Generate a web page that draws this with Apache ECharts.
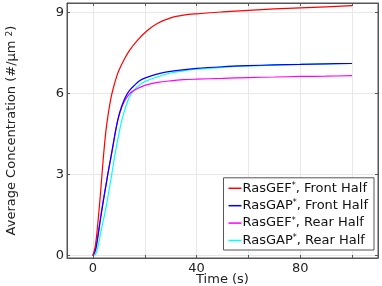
<!DOCTYPE html>
<html>
<head>
<meta charset="utf-8">
<script src="https://cdn.jsdelivr.net/npm/echarts@6/dist/echarts.min.js"></script>
<style>html,body{margin:0;padding:0;background:#fff}#c{width:382px;height:286px}</style>
</head>
<body>
<div id="c"></div>
<script>
const seriesNames = ['RasGEF*, Front Half', 'RasGAP*, Front Half', 'RasGEF*, Rear Half', 'RasGAP*, Rear Half'];
const seriesColors = ['#ff0000', '#0000ff', '#ff00ff', '#00ffff'];

const redT = [0,1,2,3,4,5,6,7,8,9,10,12,14,17,21,25,30,35,40,50,60,70,80,90,100];
const redV = [0,0.4,1.3,2.4,3.6,4.6,5.3,5.85,6.25,6.58,6.85,7.25,7.58,7.95,8.33,8.6,8.8,8.9,8.95,9.02,9.08,9.13,9.17,9.21,9.25];

const blueT = [0,1,2,3,4,5,6,7,8,9,10,11,12,13,14,16,18,20,24,28,32,40,50,60,70,80,90,100];
const blueV = [0,0.2,0.75,1.4,2.0,2.58,3.15,3.68,4.22,4.75,5.18,5.5,5.75,5.95,6.1,6.3,6.47,6.57,6.7,6.79,6.85,6.93,6.99,7.03,7.06,7.08,7.1,7.11];

const magT = [0,1,2,3,4,5,6,7,8,9,10,11,12,14,16,18,20,25,30,35,40,50,60,70,80,90,100];
const magV = [0,0.25,0.8,1.45,2.05,2.6,3.15,3.65,4.2,4.75,5.15,5.45,5.68,5.98,6.12,6.22,6.3,6.41,6.47,6.51,6.53,6.56,6.59,6.61,6.63,6.64,6.66];

const cyanT = [0,1,2,3,4,5,6,7,8,9,10,11,12,13,14,15,16,18,20,25,30,35,40,50,60,70,80,90,100];
const cyanV = [0,0.05,0.35,0.85,1.3,1.75,2.3,2.85,3.45,4.0,4.5,4.95,5.3,5.6,5.85,6.02,6.14,6.32,6.44,6.62,6.76,6.84,6.9,6.97,7.02,7.05,7.08,7.1,7.11];

const xTickLabels = [0, 40, 80];
const xGridValues = [0, 20, 40, 60, 80, 100];
const yTickLabels = [0, 3, 6, 9];

const allT = [redT, blueT, magT, cyanT];
const allV = [redV, blueV, magV, cyanV];

const font = 'DejaVu Sans';
const chart = echarts.init(document.getElementById('c'), null, {renderer: 'canvas'});

const series = seriesNames.map((n, i) => ({
  name: n,
  type: 'line',
  smooth: 0.35,
  showSymbol: false,
  symbol: 'none',
  data: allT[i].map((t, j) => [t, allV[i][j]]),
  lineStyle: {color: seriesColors[i], width: 1.2},
  itemStyle: {color: seriesColors[i]},
  z: 10 - i
}));

function legendFmt(name) {
  const p = name.split('*');
  return p[0] + '{sup|*}' + p[1];
}

const axisCol = '#555';

chart.setOption({
  animation: false,
  backgroundColor: '#fff',
  grid: {left: 67, right: 4, top: 3, bottom: 28, containLabel: false, outerBoundsMode: 'none',
    show: true, borderColor: axisCol, borderWidth: 1, backgroundColor: 'transparent'},
  xAxis: [{
    type: 'value', min: -10, max: 110,
    name: 'Time (s)', nameLocation: 'middle', nameGap: 15, nameMoveOverlap: false,
    nameTextStyle: {fontFamily: font, fontSize: 13, color: '#222'},
    axisLine: {show: true, onZero: false, lineStyle: {color: axisCol, width: 1}},
    axisTick: {show: true, inside: true, length: 3, customValues: xGridValues, lineStyle: {color: axisCol}},
    axisLabel: {customValues: xTickLabels, fontFamily: font, fontSize: 13, color: '#222', margin: 4},
    splitLine: {show: true, lineStyle: {color: '#e8e8e8', width: 1}}
  }, {
    type: 'value', min: -10, max: 110, position: 'top',
    axisLine: {show: true, onZero: false, lineStyle: {color: axisCol, width: 1}},
    axisTick: {show: true, inside: true, length: 3, customValues: xGridValues, lineStyle: {color: axisCol}},
    axisLabel: {show: false},
    splitLine: {show: false}
  }],
  yAxis: [{
    type: 'value', min: -0.09, max: 9.35,
    name: 'Average Concentration (#/µm {sup|2})', nameLocation: 'middle', nameGap: 49, nameMoveOverlap: false,
    nameTextStyle: {fontFamily: font, fontSize: 13, color: '#222',
      rich: {sup: {fontFamily: font, fontSize: 9, verticalAlign: 'top', color: '#222'}}},
    axisLine: {show: true, onZero: false, lineStyle: {color: axisCol, width: 1}},
    axisTick: {show: true, inside: true, length: 3, customValues: yTickLabels, lineStyle: {color: axisCol}},
    axisLabel: {customValues: yTickLabels, fontFamily: font, fontSize: 13, color: '#222', margin: 3},
    splitLine: {show: true, lineStyle: {color: '#e8e8e8', width: 1}}
  }, {
    type: 'value', min: -0.09, max: 9.35, position: 'right',
    axisLine: {show: true, onZero: false, lineStyle: {color: axisCol, width: 1}},
    axisTick: {show: true, inside: true, length: 3, customValues: yTickLabels, lineStyle: {color: axisCol}},
    axisLabel: {show: false},
    splitLine: {show: false}
  }],
  legend: {
    orient: 'vertical',
    right: 8, bottom: 36,
    data: seriesNames,
    icon: 'rect',
    itemWidth: 13, itemHeight: 1.5,
    itemGap: 4.4,
    padding: [4, 6, 3, 5],
    backgroundColor: '#fff',
    borderColor: axisCol, borderWidth: 1,
    formatter: legendFmt,
    textStyle: {fontFamily: font, fontSize: 13, color: '#111', padding: [0, 0, 0, -4],
      rich: {sup: {fontFamily: font, fontSize: 8, verticalAlign: 'top', color: '#111', padding: [0, 0, 4, 0]}}}
  },
  series: series
});
</script>
</body>
</html>
